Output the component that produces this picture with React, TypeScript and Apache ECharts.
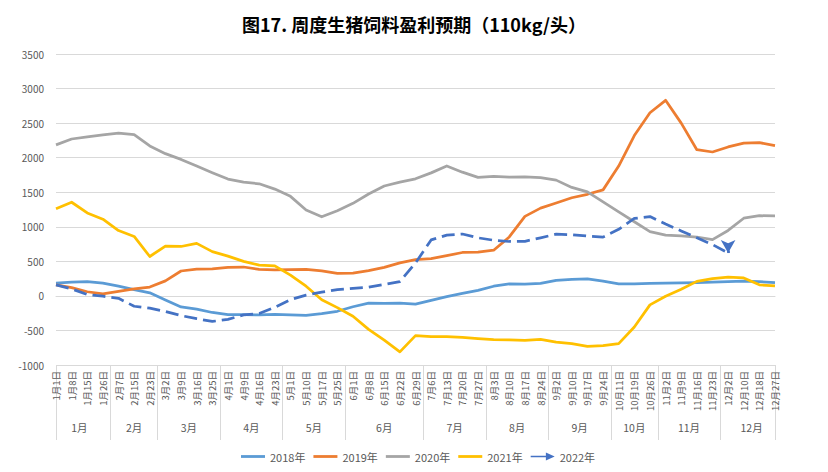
import React, { useEffect, useRef } from 'react';
import * as echarts from 'echarts';

const categories = [
  '1月1日', '1月8日', '1月15日', '1月26日',
  '2月7日', '2月15日', '2月23日',
  '3月2日', '3月9日', '3月16日', '3月25日',
  '4月1日', '4月9日', '4月16日', '4月23日',
  '5月1日', '5月10日', '5月17日', '5月25日',
  '6月1日', '6月8日', '6月15日', '6月22日', '6月29日',
  '7月6日', '7月13日', '7月20日', '7月27日',
  '8月3日', '8月10日', '8月17日', '8月24日',
  '9月2日', '9月10日', '9月17日', '9月24日',
  '10月11日', '10月19日', '10月26日',
  '11月2日', '11月9日', '11月16日', '11月23日',
  '12月2日', '12月10日', '12月18日', '12月27日',
];

const months = ['1月', '2月', '3月', '4月', '5月', '6月', '7月', '8月', '9月', '10月', '11月', '12月'];
const monthWeekCounts = [4, 3, 4, 4, 4, 5, 4, 4, 4, 3, 4, 4];

const seriesNames = ['2018年', '2019年', '2020年', '2021年', '2022年'];

const y2018 = [185, 200, 205, 185, 140, 90, 45, -60, -160, -192, -240, -270, -270, -275, -266, -275, -283, -258, -223, -157, -106, -110, -106, -120, -65, -10, 35, 80, 140, 173, 170, 180, 225, 240, 245, 215, 175, 175, 180, 183, 188, 193, 200, 207, 213, 205, 193];
const y2019 = [160, 120, 60, 30, 65, 100, 128, 217, 360, 387, 392, 412, 418, 383, 376, 381, 384, 362, 326, 330, 366, 412, 478, 524, 540, 583, 628, 633, 661, 853, 1151, 1270, 1345, 1420, 1470, 1534, 1878, 2320, 2650, 2830, 2500, 2115, 2082, 2155, 2210, 2218, 2175];
const y2020 = [2185, 2270, 2300, 2330, 2354, 2335, 2170, 2058, 1975, 1878, 1782, 1690, 1645, 1622, 1545, 1440, 1242, 1145, 1233, 1339, 1475, 1590, 1645, 1694, 1780, 1880, 1790, 1715, 1728, 1718, 1722, 1710, 1675, 1570, 1505, 1360, 1216, 1073, 929, 880, 867, 852, 815, 947, 1124, 1160, 1158];
const y2021 = [1260, 1355, 1200, 1110, 945, 860, 570, 720, 715, 760, 640, 575, 500, 445, 434, 300, 140, -55, -170, -295, -485, -640, -810, -575, -589, -589, -600, -617, -633, -637, -645, -630, -668, -690, -730, -720, -690, -450, -130, -5, 95, 210, 249, 270, 260, 160, 145];
const y2022 = [160, 100, 20, -5, -35, -150, -178, -225, -285, -330, -370, -340, -275, -255, -165, -55, 12, 55, 92, 110, 125, 165, 207, 475, 810, 880, 895, 840, 805, 787, 790, 840, 893, 885, 865, 850, 963, 1120, 1148, 1040, 940, 840, 743, 620];

const Y_MIN = -1000;
const Y_MAX = 3500;
const Y_STEP = 500;

const colors = ['#5B9BD5', '#ED7D31', '#A5A5A5', '#FFC000', '#4472C4'];

export default function App() {
  const ref = useRef<HTMLDivElement>(null);

  useEffect(() => {
    if (!ref.current) return;
    const chart = echarts.init(ref.current, null, { renderer: 'svg' });

    // Build the month (second level) axis: 2 slots per week, boundaryGap false
    const n = categories.length;
    const monthAxisData: string[] = [];
    for (let j = 0; j < 2 * (n - 1) + 1; j++) monthAxisData.push('_' + j);
    const boundarySet = new Set<number>([0, 2 * (n - 1)]);
    const labelSet = new Set<number>();
    let start = 0;
    months.forEach((m, k) => {
      const c = monthWeekCounts[k];
      const center = 2 * start + c - 1;
      monthAxisData[center] = m;
      labelSet.add(center);
      const end = start + c;
      if (end < n) boundarySet.add(2 * end - 1);
      start = end;
    });

    const font = '"Noto Sans CJK SC", "Noto Sans", sans-serif';
    const lineIcon = 'path://M0,0L30,0L30,3.5L0,3.5Z';
    const arrowIcon = 'path://M0,4L19,4L19,0L30,5L19,10L19,6L0,6Z';

    const data = [y2018, y2019, y2020, y2021, y2022];
    const last = y2022.length - 1;
    const arrowStart = last - 0.3;
    const arrowStartVal = y2022[last - 1] + 0.7 * (y2022[last] - y2022[last - 1]);

    const series: any[] = seriesNames.map((name, i) => ({
      name,
      type: 'line',
      data: data[i],
      xAxisIndex: 0,
      symbol: 'none',
      showSymbol: false,
      color: colors[i],
      lineStyle: {
        color: colors[i],
        width: 2.75,
        type: i === 4 ? [13, 6] : 'solid',
        cap: 'butt',
        join: 'round',
      },
      emphasis: { disabled: true },
      z: 2 + i,
    }));

    series[4].markLine = {
      silent: true,
      symbol: ['none', 'arrow'],
      symbolSize: [11, 13],
      label: { show: false },
      emphasis: { disabled: true },
      lineStyle: { color: colors[4], width: 2.75, type: 'solid' },
      data: [[
        { coord: [arrowStart, arrowStartVal] },
        { coord: [last, y2022[last]] },
      ]],
    };

    const option: any = {
      animation: false,
      backgroundColor: '#ffffff',
      title: {
        text: '图17. 周度生猪饲料盈利预期（110kg/头）',
        left: 'center',
        top: 10,
        textStyle: { fontSize: 18, fontWeight: 'bold', color: '#000000', fontFamily: font },
      },
      legend: {
        data: seriesNames.map((name, i) => ({ name, icon: i === 4 ? arrowIcon : lineIcon })),
        top: 446,
        left: 236,
        itemWidth: 24,
        itemHeight: 10,
        itemGap: 8,
        itemStyle: { borderWidth: 0 },
        textStyle: { fontSize: 11, color: '#595959', fontFamily: font },
      },
      grid: { left: 56, right: 53, top: 54, bottom: 107, containLabel: false },
      xAxis: [
        {
          type: 'category',
          data: categories,
          boundaryGap: false,
          position: 'bottom',
          axisLine: { show: true, lineStyle: { color: '#d9d9d9', width: 1 } },
          axisTick: { show: false },
          splitLine: { show: false },
          axisLabel: {
            interval: 0,
            rotate: 90,
            margin: 6,
            fontSize: 9.5,
            color: '#595959',
            fontFamily: font,
          },
        },
        {
          type: 'category',
          data: monthAxisData,
          boundaryGap: false,
          position: 'bottom',
          axisLine: { show: false },
          axisTick: {
            show: true,
            interval: (idx: number) => boundarySet.has(idx),
            length: 75,
            lineStyle: { color: '#d9d9d9', width: 1 },
          },
          splitLine: { show: false },
          axisLabel: {
            interval: (idx: number) => labelSet.has(idx),
            formatter: (v: string) => (v.charAt(0) === '_' ? '' : v),
            margin: 57,
            fontSize: 10.5,
            color: '#595959',
            fontFamily: font,
          },
        },
      ],
      yAxis: {
        type: 'value',
        min: Y_MIN,
        max: Y_MAX,
        interval: Y_STEP,
        axisLine: { show: false },
        axisTick: { show: false },
        splitLine: { show: true, lineStyle: { color: '#d9d9d9', width: 1 } },
        axisLabel: {
          fontSize: 10,
          color: '#595959',
          margin: 12,
          fontFamily: font,
          formatter: (v: number) => String(v),
        },
      },
      series,
    };

    chart.setOption(option);
    return () => chart.dispose();
  }, []);

  return (
    <div
      ref={ref}
      style={{ position: 'fixed', left: 0, top: 0, width: 828, height: 472, background: '#ffffff' }}
    />
  );
}
